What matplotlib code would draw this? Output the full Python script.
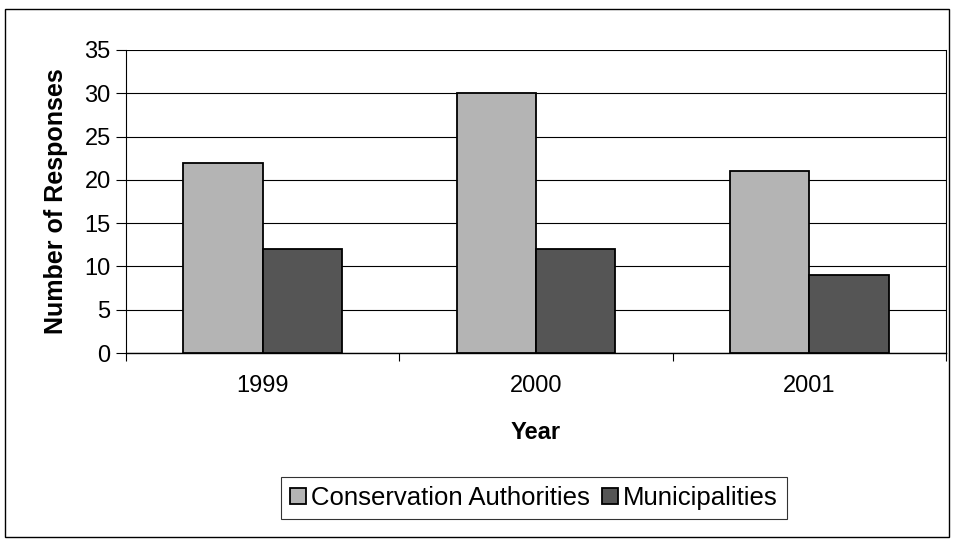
import matplotlib
matplotlib.use('Agg')
import matplotlib.pyplot as plt
from matplotlib.patches import Rectangle
import numpy as np

years = ['1999', '2000', '2001']
conservation = [22, 30, 21]
municipalities = [12, 12, 9]

plt.rcParams['font.family'] = ['Liberation Sans', 'DejaVu Sans']

fig = plt.figure(figsize=(9.56, 5.39), dpi=100)
ax = fig.add_axes([126 / 956, 1 - 353 / 539, 820 / 956, 303 / 539])

x = np.arange(len(years))
w = 0.29
ax.bar(x - w / 2, conservation, w, color='#b4b4b4', edgecolor='black',
       linewidth=1.3, label='Conservation Authorities', zorder=3)
ax.bar(x + w / 2, municipalities, w, color='#555555', edgecolor='black',
       linewidth=1.3, label='Municipalities', zorder=3)

ax.set_xlim(-0.5, 2.5)
ax.set_ylim(0, 35)
ax.set_yticks(range(0, 36, 5))
ax.yaxis.grid(True, color='black', linewidth=0.8)
ax.set_axisbelow(True)

ax.set_xticks(x)
ax.set_xticklabels(years, fontsize=17)
ax.tick_params(axis='x', length=0, pad=16)
ax.set_xticks([-0.5, 0.5, 1.5, 2.5], minor=True)
ax.tick_params(axis='x', which='minor', length=6, direction='out', width=0.8)
ax.tick_params(axis='y', labelsize=17, length=7, width=0.8, pad=4)

ax.spines['top'].set_visible(False)
ax.spines['right'].set_linewidth(0.8)
ax.spines['left'].set_linewidth(0.8)
ax.spines['bottom'].set_linewidth(1.0)

xl = ax.set_xlabel('Year', fontsize=17, fontweight='bold', labelpad=17)
ax.set_ylabel('Number of Responses', fontsize=18, fontweight='bold', labelpad=12)

leg = ax.legend(loc='center', bbox_to_anchor=(534 / 956, 1 - 498 / 539),
                bbox_transform=fig.transFigure, ncol=2, fontsize=18.5,
                frameon=True, fancybox=False, edgecolor='black',
                handlelength=0.6, handleheight=0.6, handletextpad=0.2,
                columnspacing=0.5, borderpad=0.35)
leg.get_frame().set_linewidth(0.8)

fig.patches.append(Rectangle((5 / 956, 2 / 539), 944 / 956, 528 / 539,
                             transform=fig.transFigure, fill=False,
                             edgecolor='black', linewidth=1.0))

fig.savefig('out.png', dpi=100)
